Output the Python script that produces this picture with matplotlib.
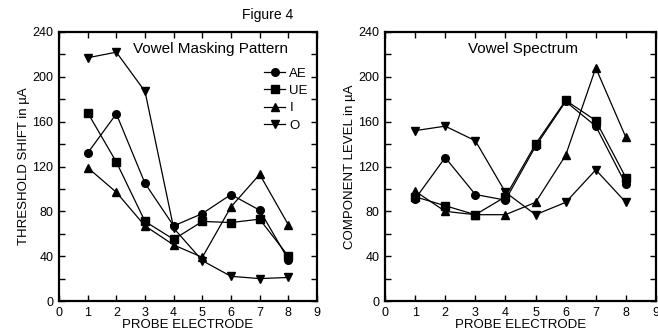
import matplotlib
matplotlib.use('Agg')
import matplotlib.pyplot as plt
import numpy as np

plt.rcParams['font.family'] = ['Liberation Sans', 'DejaVu Sans']

electrode = [1, 2, 3, 4, 5, 6, 7, 8]
series = ['AE', 'UE', 'I', 'O']
markers = ['o', 's', '^', 'v']

# left: vowel masking pattern (threshold shift)
mask_ae = [132, 167, 105, 67, 78, 95, 81, 37]
mask_ue = [168, 124, 71, 55, 71, 70, 73, 40]
mask_i = [119, 97, 67, 50, 39, 84, 113, 68]
mask_o = [217, 222, 187, 65, 36, 22, 20, 21]

# right: vowel spectrum (component level)
spec_ae = [91, 128, 95, 90, 138, 178, 156, 104]
spec_ue = [93, 85, 77, 93, 140, 179, 161, 110]
spec_i = [98, 80, 77, 77, 88, 130, 208, 146]
spec_o = [152, 156, 143, 97, 77, 88, 117, 88]

fig = plt.figure(figsize=(6.58, 3.33), dpi=100)
ax1 = fig.add_axes([59/658, 1-301/333, 258/658, 269/333])
ax2 = fig.add_axes([385/658, 1-301/333, 271/658, 269/333])

def style(ax, ylabel):
    ax.set_xlim(0, 9)
    ax.set_ylim(0, 240)
    ax.set_xticks(range(10))
    ax.set_yticks(range(0, 241, 40))
    ax.set_yticks(range(0, 241, 20), minor=True)
    ax.tick_params(direction='in', top=True, right=True, labelsize=9,
                   length=4, width=1, pad=4)
    ax.tick_params(which='minor', direction='in', right=True, length=4, width=1)
    for s in ax.spines.values():
        s.set_linewidth(1.6)
    ax.set_xlabel('PROBE ELECTRODE', fontsize=9.5, labelpad=0)
    ax.set_ylabel(ylabel, fontsize=9.5, labelpad=2)

for ys, m, name in zip([mask_ae, mask_ue, mask_i, mask_o], markers, series):
    ax1.plot(electrode, ys, color='black', lw=0.9, marker=m, ms=5.5, label=name)
for ys, m, name in zip([spec_ae, spec_ue, spec_i, spec_o], markers, series):
    ax2.plot(electrode, ys, color='black', lw=0.9, marker=m, ms=5.5, label=name)

style(ax1, 'THRESHOLD SHIFT in \u00b5A')
style(ax2, 'COMPONENT LEVEL in \u00b5A')

ax1.text(0.587, 0.937, 'Vowel Masking Pattern', transform=ax1.transAxes,
         ha='center', va='center', fontsize=11)
ax2.text(0.508, 0.937, 'Vowel Spectrum', transform=ax2.transAxes,
         ha='center', va='center', fontsize=11)

ax1.legend(loc='upper right', bbox_to_anchor=(1.0, 0.902), frameon=False,
           fontsize=9.5, handlelength=1.6, handletextpad=0.3,
           labelspacing=0.38, borderpad=0.2)

fig.text(268/658, 1-15/333, 'Figure 4', ha='center', va='center', fontsize=10)

fig.savefig('out.png', dpi=100)
